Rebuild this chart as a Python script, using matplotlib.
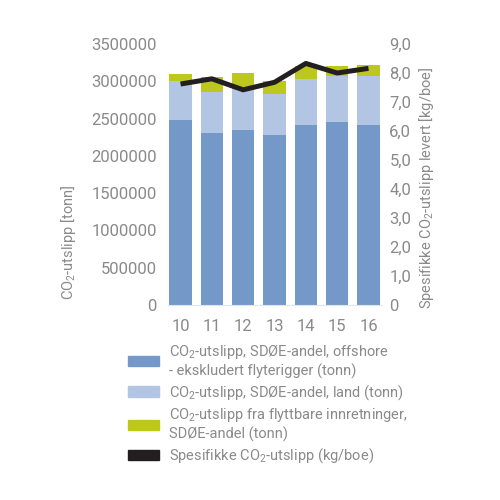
import numpy as np
import matplotlib.pyplot as plt
from matplotlib.patches import Patch

plt.rcParams['font.family'] = ['Roboto', 'DejaVu Sans']
plt.rcParams['mathtext.default'] = 'regular'

years = ['10', '11', '12', '13', '14', '15', '16']
offshore = [2475000, 2307000, 2342000, 2275000, 2408000, 2449000, 2414000]
land = [530000, 548000, 561000, 553000, 620000, 623000, 658000]
flyttbare = [98000, 208000, 209000, 177000, 180000, 138000, 143000]
spesifikke = [7.62, 7.8, 7.42, 7.68, 8.33, 8.0, 8.16]

c_off = '#7499c9'
c_land = '#b2c6e4'
c_fly = '#bdc81e'
c_line = '#231f20'
grey = '#8a8a8a'

fig = plt.figure(figsize=(5, 5), dpi=100)
ax = fig.add_axes([0.336, 0.39, 0.426, 0.522])
x = np.arange(len(years))

ax.bar(x, offshore, width=0.72, color=c_off)
ax.bar(x, land, width=0.72, bottom=offshore, color=c_land)
bottom2 = np.array(offshore) + np.array(land)
ax.bar(x, flyttbare, width=0.72, bottom=bottom2, color=c_fly)

ax.set_ylim(0, 3500000)
ax.set_yticks(np.arange(0, 3500001, 500000))
ax.set_yticklabels([str(v) for v in range(0, 3500001, 500000)])
ax.set_xlim(-0.4, len(years) - 0.6)
ax.set_xticks(x)
ax.set_xticklabels(years)

ax2 = ax.twinx()
ax2.plot(x, spesifikke, color=c_line, lw=3.6, solid_capstyle='butt')
ax2.set_ylim(0, 9)
ax2.set_yticks(np.arange(0, 10))
ax2.set_yticklabels(['0'] + ['%d,0' % v for v in range(1, 10)])

for a in (ax, ax2):
    for s in a.spines.values():
        s.set_visible(False)
    a.tick_params(length=0, colors=grey, labelsize=12)
ax.spines['bottom'].set_visible(True)
ax.spines['bottom'].set_color('#dde5f0')
ax.tick_params(axis='y', pad=8)
ax.tick_params(axis='x', pad=10)
ax2.tick_params(axis='y', pad=6)

fig.text(68 / 500, 1 - 242 / 500, 'CO$_2$-utslipp [tonn]', rotation=90,
         ha='center', va='center', color=grey, fontsize=10.5)
fig.text(427 / 500, 1 - 188 / 500, 'Spesifikke CO$_2$-utslipp levert [kg/boe]',
         rotation=90, ha='center', va='center', color=grey, fontsize=10.5)

handles = [Patch(color=c_off), Patch(color=c_land), Patch(color=c_fly), Patch(color=c_line)]
labels = ['CO$_2$-utslipp, SDØE-andel, offshore\n- ekskludert flyterigger (tonn)',
          'CO$_2$-utslipp, SDØE-andel, land (tonn)',
          'CO$_2$-utslipp fra flyttbare innretninger,\nSDØE-andel (tonn)',
          'Spesifikke CO$_2$-utslipp (kg/boe)']
leg = fig.legend(handles, labels, loc='upper left', bbox_to_anchor=(0.23, 0.34),
                 frameon=False, fontsize=10.5, handlelength=2.1, handleheight=0.7,
                 handletextpad=0.7, labelspacing=0.3, labelcolor=grey)
for t in leg.get_texts():
    t.set_multialignment('left')

fig.savefig('out.png', dpi=100)
